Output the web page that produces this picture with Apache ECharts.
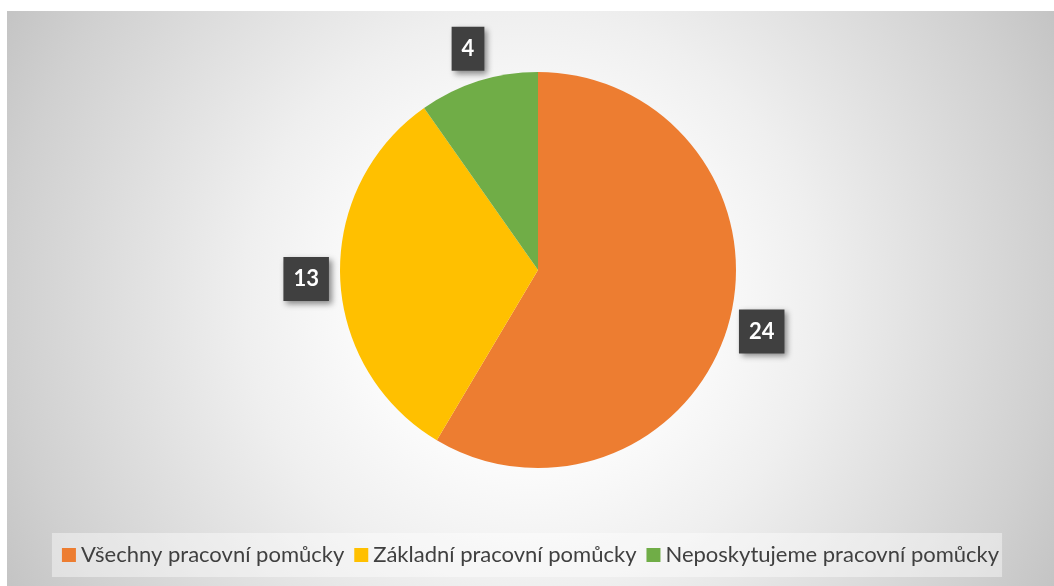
<!DOCTYPE html>
<html>
<head>
<meta charset="utf-8">
<script src="https://cdn.jsdelivr.net/npm/echarts@6/dist/echarts.min.js"></script>
<style>
  html, body { margin: 0; padding: 0; background: #ffffff; }
  #chart { position: absolute; left: 7px; top: 11px; width: 1047px; height: 575px; }
</style>
</head>
<body>
<div id="chart"></div>
<script>
// data
var categories = ['Všechny pracovní pomůcky', 'Základní pracovní pomůcky', 'Neposkytujeme pracovní pomůcky'];
var values = [24, 13, 4];
var colors = ['#ED7D31', '#FFC000', '#70AD47'];

var pieData = [];
var labelData = [];
for (var i = 0; i < categories.length; i++) {
    pieData.push({ name: categories[i], value: values[i], itemStyle: { color: colors[i] } });
    labelData.push({ name: categories[i], value: values[i] });
}

var chart = echarts.init(document.getElementById('chart'));

var option = {
    backgroundColor: {
        type: 'radial',
        x: 0.5, y: 0.5, r: 1.04,
        colorStops: [
            { offset: 0, color: '#ffffff' },
            { offset: 0.25, color: '#fdfdfd' },
            { offset: 0.48, color: '#efefef' },
            { offset: 0.87, color: '#d0d0d0' },
            { offset: 1, color: '#c4c4c4' }
        ]
    },
    legend: {
        data: categories,
        bottom: 9,
        left: 'center',
        itemWidth: 14,
        itemHeight: 14,
        itemGap: 10,
        icon: 'rect',
        padding: [11, 3, 11, 10],
        backgroundColor: 'rgba(255,255,255,0.42)',
        textStyle: {
            fontFamily: 'Lato',
            fontSize: 22,
            color: '#404040'
        }
    },
    series: [
        {
            // the pie itself
            type: 'pie',
            center: [531, 259],
            radius: 198,
            startAngle: 90,
            clockwise: true,
            avoidLabelOverlap: false,
            label: { show: false },
            labelLine: { show: false },
            emphasis: { scale: false },
            data: pieData
        },
        {
            // invisible ring that only carries the value boxes
            type: 'pie',
            center: [531, 259],
            radius: [214, 244],
            startAngle: 90,
            clockwise: true,
            silent: true,
            avoidLabelOverlap: false,
            itemStyle: { color: 'rgba(0,0,0,0)' },
            label: {
                show: true,
                position: 'inside',
                rotate: 0,
                formatter: '{c}',
                color: '#ffffff',
                fontFamily: 'Lato',
                fontWeight: 'bold',
                fontSize: 22,
                lineHeight: 22,
                backgroundColor: '#404040',
                padding: [11, 10],
                shadowColor: 'rgba(0,0,0,0.45)',
                shadowBlur: 6,
                shadowOffsetX: 3,
                shadowOffsetY: 3
            },
            labelLine: { show: false },
            emphasis: { disabled: true },
            data: labelData
        }
    ]
};

chart.setOption(option);
</script>
</body>
</html>
